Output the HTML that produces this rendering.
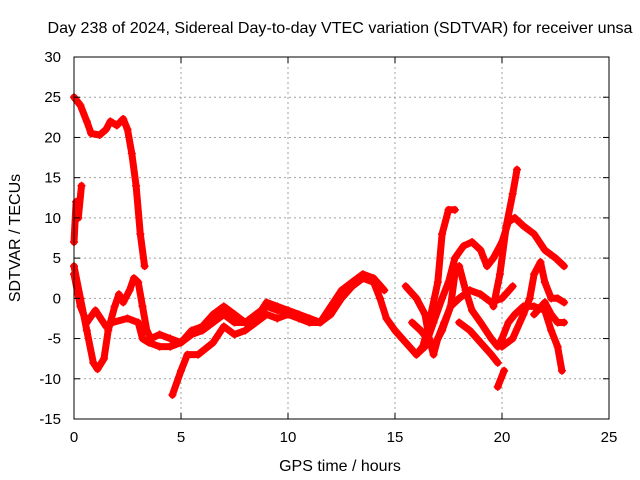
<!DOCTYPE html>
<html><head><meta charset="utf-8"><style>
body{margin:0;background:#fff;}
svg{display:block;font-family:"Liberation Sans",sans-serif;}
</style></head><body>
<svg id="chart" width="640" height="480" viewBox="0 0 640 480">
<rect width="640" height="480" fill="#fff"/>
<text x="340" y="33" font-size="16" text-anchor="middle" textLength="585" lengthAdjust="spacingAndGlyphs">Day 238 of 2024, Sidereal Day-to-day VTEC variation (SDTVAR) for receiver unsa</text>
<text x="340" y="471" font-size="16" text-anchor="middle">GPS time / hours</text>
<text transform="translate(20,238) rotate(-90)" font-size="16" text-anchor="middle">SDTVAR / TECUs</text>
<g id="grid"></g><g id="series"></g><g id="axes"></g>
</svg>
<script>
const xTicks=[0,5,10,15,20,25];
const yTicks=[-15,-10,-5,0,5,10,15,20,25,30];
const trackA=[[0,25],[0.3,24],[0.6,22],[0.8,20.5],[1.2,20.3],[1.5,21],[1.7,22],[2,21.5],[2.3,22.3],[2.5,21],[2.7,18],[2.9,14],[3.1,8],[3.3,4]];
const trackB=[[0,7],[0.1,12],[0.2,10],[0.35,14]];
const trackC=[[0,4],[0.3,0],[0.6,-4],[0.9,-8],[1.1,-8.8],[1.4,-7.5],[1.6,-4],[1.9,-1],[2.1,0.5],[2.3,-0.5],[2.6,1],[2.8,2.5],[3,2],[3.2,-1],[3.4,-4],[3.6,-5],[4,-4.5],[4.5,-5],[5,-5.5],[5.5,-4.5],[6,-4],[6.5,-3],[7,-2],[7.5,-3],[8,-3],[8.5,-2],[9,-1],[9.5,-1.5],[10,-1.5],[10.5,-2],[11,-2.5],[11.5,-3],[12,-2],[12.5,0],[13,1.5],[13.5,2.5],[14,2],[14.3,0],[14.6,-2.5],[15,-4],[15.5,-5.5],[16,-7],[16.3,-6],[16.6,-3],[17,2],[17.2,8],[17.5,11],[17.8,11]];
const trackD=[[0,3],[0.3,-1],[0.6,-3],[1,-1.5],[1.5,-3.5],[1.8,-3],[2.5,-2.5],[3,-3],[3.2,-5],[3.5,-5.5],[4,-6],[4.5,-6],[5,-5.5],[5.5,-4],[6,-3.5],[6.5,-2],[7,-1],[7.5,-2],[8,-3],[8.5,-2.5],[9,-0.5],[9.5,-1],[10,-1.5],[11,-2.5],[11.5,-3],[12,-1],[12.5,1],[13,2],[13.5,3],[14,2.5],[14.5,1]];
const trackE=[[4.6,-12],[5,-9],[5.3,-7],[5.8,-7],[6.5,-5.5],[7,-3.5],[7.5,-4.5],[8,-4],[8.5,-3],[9,-2],[9.5,-2.5],[10,-2],[10.5,-2.5],[11,-3],[11.5,-3]];
const trackF=[[15.5,1.5],[16,0],[16.4,-2],[16.6,-5],[16.8,-7],[17,-5],[17.3,-3],[17.6,-1],[17.8,3],[18,4],[18.3,1],[18.6,-1.5],[19,-3],[19.5,-5],[19.8,-6],[20,-5],[20.3,-3],[20.6,-2],[21,-1],[21.5,-1],[22,-1.5],[22.3,-4],[22.6,-6],[22.8,-9]];
const trackG=[[16,-7],[16.4,-6],[16.8,-3],[17.2,0],[17.5,2],[17.8,5],[18.2,6.5],[18.6,7],[19,6],[19.3,4],[19.6,5],[20,7],[20.3,9.5],[20.6,10],[21,9],[21.5,8],[22,6],[22.5,5],[22.9,4]];
const trackH=[[15.8,-3],[16.2,-4],[16.8,-6],[17.2,-4],[17.6,-1],[18,0],[18.5,1],[19,0.5],[19.5,-0.5],[20,0],[20.5,1.5]];
const trackI=[[18,-3],[18.5,-4],[19,-5.5],[19.5,-7],[19.8,-8]];
const trackJ=[[19.8,-11],[20.1,-9]];
const trackK=[[19.6,-1],[19.9,3],[20.2,9],[20.5,13],[20.7,16]];
const trackL=[[20,-6],[20.5,-5],[21,-2],[21.3,0],[21.5,3],[21.8,4.5],[22,2],[22.3,0],[22.6,0],[22.9,-0.5]];
const trackM=[[21.5,-2],[22,-0.5],[22.3,-2],[22.6,-3],[22.9,-3]];
const tracks=[trackA,trackB,trackC,trackD,trackE,trackF,trackG,trackH,trackI,trackJ,trackK,trackL,trackM];

const X0=74,X1=609,Y0=419,Y1=57;
const xs=v=>X0+(v-0)/(25-0)*(X1-X0);
const ys=v=>Y0-(v+15)/(45)*(Y0-Y1);
const NS="http://www.w3.org/2000/svg";
const grid=document.getElementById('grid'),axes=document.getElementById('axes'),ser=document.getElementById('series');
function mk(tag,attrs,parent){const e=document.createElementNS(NS,tag);for(const k in attrs)e.setAttribute(k,attrs[k]);parent.appendChild(e);return e;}
xTicks.forEach(t=>{
  if(t>0&&t<25){const g=mk('line',{x1:xs(t),x2:xs(t),y1:Y0,y2:Y1,stroke:'#a0a0a0','stroke-dasharray':'2,3'},grid);
  
  }
  const l=mk('text',{x:xs(t),y:Y0+23,'font-size':15,'text-anchor':'middle'},axes);l.textContent=t;
  
  
  mk('line',{x1:xs(t),x2:xs(t),y1:Y0,y2:Y0-6,stroke:'#000'},axes);
  mk('line',{x1:xs(t),x2:xs(t),y1:Y1,y2:Y1+6,stroke:'#000'},axes);
});
yTicks.forEach(t=>{
  if(t>-15&&t<30){const g=mk('line',{x1:X0,x2:X1,y1:ys(t),y2:ys(t),stroke:'#a0a0a0','stroke-dasharray':'2,3'},grid);
  
  }
  const l=mk('text',{x:X0-13,y:ys(t)+5,'font-size':15,'text-anchor':'end'},axes);l.textContent=t;
  
  
  mk('line',{x1:X0,x2:X0+6,y1:ys(t),y2:ys(t),stroke:'#000'},axes);
  mk('line',{x1:X1,x2:X1-6,y1:ys(t),y2:ys(t),stroke:'#000'},axes);
});
const fr=mk('rect',{x:X0,y:Y1,width:X1-X0,height:Y0-Y1,fill:'none',stroke:'#000'},axes);


tracks.forEach(tr=>{
  const d=tr.map((p,i)=>(i?'L':'M')+xs(p[0]).toFixed(1)+','+ys(p[1]).toFixed(1)).join('');
  const p=mk('path',{d:d,fill:'none',stroke:'#ff0000','stroke-width':7,'stroke-linejoin':'round','stroke-linecap':'round'},ser);
  
  
  tr.forEach(q=>{
    const m=mk('path',{d:`M${xs(q[0])-4},${ys(q[1])}h8M${xs(q[0])},${ys(q[1])-4}v8`,stroke:'#ff0000','stroke-width':1.5},ser);
    
    
  });
});
</script>
</body></html>
